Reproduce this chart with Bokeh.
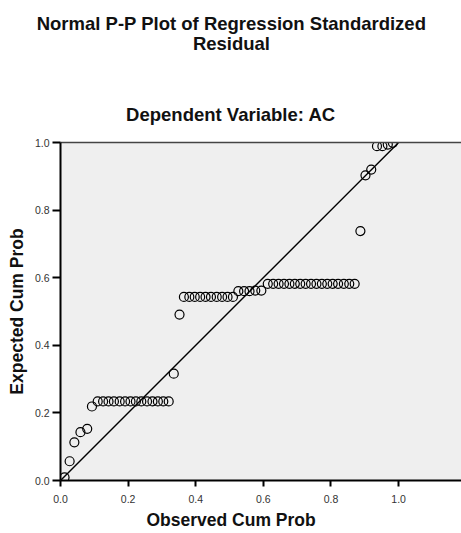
from bokeh.plotting import figure
from bokeh.models import Range1d, FixedTicker, PrintfTickFormatter, LinearAxis, Title
from bokeh.embed import file_html
from bokeh.resources import INLINE

# ---- data ----
observed = [0.012, 0.027, 0.041, 0.059, 0.079, 0.093,
            0.110, 0.126, 0.142, 0.158, 0.175, 0.191, 0.207, 0.223, 0.239, 0.256, 0.272, 0.288, 0.304, 0.320,
            0.335, 0.352,
            0.365, 0.381, 0.397, 0.413, 0.429, 0.445, 0.462, 0.478, 0.494, 0.510,
            0.526, 0.543, 0.559, 0.576, 0.594,
            0.613, 0.629, 0.645, 0.661, 0.677, 0.693, 0.709, 0.725, 0.741, 0.757, 0.773, 0.789, 0.805, 0.821,
            0.838, 0.854, 0.870,
            0.887, 0.902, 0.919, 0.936, 0.952, 0.968, 0.983]
expected = [0.009, 0.057, 0.113, 0.143, 0.153, 0.219,
            0.234, 0.234, 0.234, 0.234, 0.234, 0.234, 0.234, 0.234, 0.234, 0.234, 0.234, 0.234, 0.234, 0.234,
            0.316, 0.491,
            0.543, 0.543, 0.543, 0.543, 0.543, 0.543, 0.543, 0.543, 0.543, 0.543,
            0.560, 0.560, 0.560, 0.562, 0.562,
            0.582, 0.582, 0.582, 0.582, 0.582, 0.582, 0.582, 0.582, 0.582, 0.582, 0.582, 0.582, 0.582, 0.582,
            0.582, 0.582, 0.582,
            0.738, 0.903, 0.920, 0.989, 0.989, 0.994, 0.999]
ref_line_x = [0.0, 1.0]
ref_line_y = [0.0, 1.0]
tick_values = [0.0, 0.2, 0.4, 0.6, 0.8, 1.0]

title_line1 = "Normal P-P Plot of Regression Standardized"
title_line2 = "Residual"
subtitle = "Dependent Variable: AC"
x_title = "Observed Cum Prob"
y_title = "Expected Cum Prob"

FONT = "Liberation Sans"

p = figure(width=461, height=533, output_backend="svg", toolbar_location=None,
           x_range=Range1d(0, 1.186), y_range=Range1d(0, 1.0),
           min_border_left=60, min_border_right=0, min_border_top=142, min_border_bottom=53)

p.background_fill_color = "#efefef"
p.border_fill_color = "white"
p.outline_line_color = None
p.xgrid.visible = False
p.ygrid.visible = False

for ax in (p.xaxis[0], p.yaxis[0]):
    ax.ticker = FixedTicker(ticks=tick_values)
    ax.formatter = PrintfTickFormatter(format="%.1f")
    ax.minor_tick_line_color = None
    ax.major_tick_in = 0
    ax.axis_line_color = "black"
    ax.axis_line_width = 2
    ax.major_tick_line_color = "black"
    ax.major_tick_line_width = 2
    ax.major_label_text_font = FONT
    ax.major_label_text_font_size = "10.5px"
    ax.major_label_text_color = "#333333"
    ax.axis_label_text_font = FONT
    ax.axis_label_text_font_size = "17.5px"
    ax.axis_label_text_font_style = "bold"
    ax.axis_label_text_color = "#111111"

p.xaxis[0].major_tick_out = 6
p.xaxis[0].major_label_standoff = 8

p.yaxis[0].major_tick_out = 8
p.yaxis[0].major_label_standoff = 3
p.yaxis[0].axis_label = y_title
p.yaxis[0].axis_label_standoff = 5
p.yaxis[0].major_label_orientation = "horizontal"

top_axis = LinearAxis(ticker=FixedTicker(ticks=[]), axis_line_color="#444444", axis_line_width=1.5,
                      major_tick_line_color=None, minor_tick_line_color=None,
                      major_label_text_font_size="0px")
p.add_layout(top_axis, "above")

p.line(ref_line_x, ref_line_y, line_color="black", line_width=1.4)
p.scatter(observed, expected, size=9, marker="circle", fill_alpha=0,
          line_color="black", line_width=1.2)

def make_title(txt, offset, standoff, size="18.5px"):
    return Title(text=txt, align="left", offset=offset, standoff=standoff,
                 text_font=FONT, text_font_size=size, text_font_style="bold",
                 text_color="#111111")

p.add_layout(make_title(subtitle, 65.6, 35), "above")
p.add_layout(make_title(title_line2, 132.4, 61), "above")
p.add_layout(make_title(title_line1, -23.8, -67), "above")
p.add_layout(make_title(x_title, 86, 5, "17.5px"), "below")

open("out.html", "w").write(file_html(p, INLINE))
